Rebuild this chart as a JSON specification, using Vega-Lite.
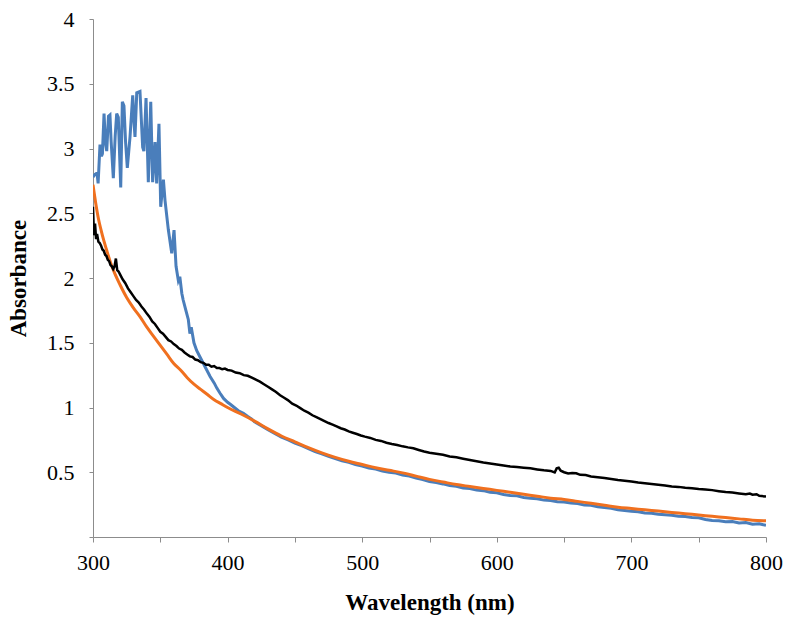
{
  "$schema": "https://vega.github.io/schema/vega-lite/v6.json",
  "width": 673,
  "height": 518,
  "autosize": {"type": "none"},
  "padding": {"left": 93, "top": 19, "right": 34, "bottom": 90},
  "background": "white",
  "config": {
    "view": {"stroke": null},
    "axis": {
      "labelFont": "Liberation Serif",
      "labelFontSize": 22,
      "labelColor": "#000000",
      "titleFont": "Liberation Serif",
      "titleFontSize": 23,
      "titleFontWeight": "bold",
      "titleColor": "#000000",
      "domainColor": "#8c8c8c",
      "tickColor": "#8c8c8c",
      "grid": false
    }
  },
  "datasets": {
    "blue": [
      {"w": 300, "a": 2.78}, {"w": 301.5, "a": 2.8}, {"w": 303, "a": 2.81}, {"w": 303.8, "a": 2.73},
      {"w": 305.2, "a": 3.03}, {"w": 306.3, "a": 2.94}, {"w": 307, "a": 2.96}, {"w": 308.2, "a": 3.27},
      {"w": 309.2, "a": 3.05}, {"w": 310.2, "a": 2.98}, {"w": 311.5, "a": 3.25}, {"w": 312.6, "a": 3.26},
      {"w": 313.5, "a": 3.05}, {"w": 315.1, "a": 2.77}, {"w": 316.5, "a": 3.1}, {"w": 317.6, "a": 3.27},
      {"w": 318.8, "a": 3.24}, {"w": 320.6, "a": 2.7}, {"w": 321.8, "a": 3.36}, {"w": 323, "a": 3.33},
      {"w": 324.2, "a": 3.05}, {"w": 325.5, "a": 2.85}, {"w": 327.5, "a": 3.09}, {"w": 329.5, "a": 3.41},
      {"w": 330.5, "a": 3.2}, {"w": 331.2, "a": 3.09}, {"w": 332.5, "a": 3.43}, {"w": 334.9, "a": 3.44},
      {"w": 336.9, "a": 3.01}, {"w": 337.8, "a": 2.98}, {"w": 339.4, "a": 3.39}, {"w": 341.1, "a": 2.74},
      {"w": 342.9, "a": 3.36}, {"w": 344.3, "a": 2.74}, {"w": 346.1, "a": 3.05}, {"w": 347.3, "a": 2.73},
      {"w": 349, "a": 3.19}, {"w": 350.3, "a": 2.55}, {"w": 352.3, "a": 2.76}, {"w": 353.5, "a": 2.6},
      {"w": 356, "a": 2.37}, {"w": 358.5, "a": 2.19}, {"w": 360.2, "a": 2.37}, {"w": 361.7, "a": 2.09},
      {"w": 363.4, "a": 1.98}, {"w": 364.5, "a": 2.01}, {"w": 366, "a": 1.88}, {"w": 367, "a": 1.83},
      {"w": 369, "a": 1.75}, {"w": 370.8, "a": 1.68}, {"w": 372, "a": 1.57}, {"w": 373, "a": 1.62},
      {"w": 375, "a": 1.5}, {"w": 377, "a": 1.44}, {"w": 379.5, "a": 1.39}, {"w": 382, "a": 1.34},
      {"w": 384.5, "a": 1.29}, {"w": 387, "a": 1.24}, {"w": 390, "a": 1.19}, {"w": 392, "a": 1.15},
      {"w": 394.4, "a": 1.11}, {"w": 397, "a": 1.07}, {"w": 400, "a": 1.04}, {"w": 402, "a": 1.025},
      {"w": 405, "a": 1.0}, {"w": 408, "a": 0.975}, {"w": 411.7, "a": 0.955}, {"w": 415, "a": 0.93},
      {"w": 418, "a": 0.91}, {"w": 420, "a": 0.89}, {"w": 425, "a": 0.86}, {"w": 430, "a": 0.828},
      {"w": 435, "a": 0.8}, {"w": 440, "a": 0.772}, {"w": 445, "a": 0.75}, {"w": 450, "a": 0.725},
      {"w": 455, "a": 0.705}, {"w": 460, "a": 0.683}, {"w": 465, "a": 0.66}, {"w": 470, "a": 0.642},
      {"w": 475, "a": 0.622}, {"w": 480, "a": 0.605}, {"w": 485, "a": 0.588}, {"w": 490, "a": 0.576},
      {"w": 495, "a": 0.56}, {"w": 500, "a": 0.548}, {"w": 505, "a": 0.532}, {"w": 510, "a": 0.524},
      {"w": 515, "a": 0.51}, {"w": 520, "a": 0.5}, {"w": 525, "a": 0.494}, {"w": 530, "a": 0.478},
      {"w": 535, "a": 0.47}, {"w": 540, "a": 0.455}, {"w": 545, "a": 0.444}, {"w": 550, "a": 0.428},
      {"w": 555, "a": 0.42}, {"w": 560, "a": 0.41}, {"w": 565, "a": 0.398}, {"w": 570, "a": 0.392},
      {"w": 575, "a": 0.378}, {"w": 580, "a": 0.374}, {"w": 585, "a": 0.362}, {"w": 590, "a": 0.358},
      {"w": 595, "a": 0.345}, {"w": 600, "a": 0.342}, {"w": 605, "a": 0.328}, {"w": 610, "a": 0.32},
      {"w": 615, "a": 0.318}, {"w": 620, "a": 0.305}, {"w": 625, "a": 0.3}, {"w": 630, "a": 0.296},
      {"w": 635, "a": 0.285}, {"w": 640, "a": 0.282}, {"w": 645, "a": 0.272}, {"w": 650, "a": 0.27},
      {"w": 655, "a": 0.262}, {"w": 660, "a": 0.258}, {"w": 665, "a": 0.248}, {"w": 670, "a": 0.245},
      {"w": 675, "a": 0.234}, {"w": 680, "a": 0.228}, {"w": 685, "a": 0.222}, {"w": 690, "a": 0.21},
      {"w": 695, "a": 0.205}, {"w": 700, "a": 0.198}, {"w": 705, "a": 0.195}, {"w": 710, "a": 0.186},
      {"w": 715, "a": 0.184}, {"w": 720, "a": 0.175}, {"w": 725, "a": 0.172}, {"w": 730, "a": 0.168},
      {"w": 735, "a": 0.16}, {"w": 740, "a": 0.158}, {"w": 745, "a": 0.15}, {"w": 750, "a": 0.148},
      {"w": 755, "a": 0.135}, {"w": 760, "a": 0.128}, {"w": 765, "a": 0.125}, {"w": 770, "a": 0.118},
      {"w": 775, "a": 0.12}, {"w": 780, "a": 0.108}, {"w": 785, "a": 0.112}, {"w": 790, "a": 0.098},
      {"w": 795, "a": 0.102}, {"w": 800, "a": 0.09}
    ],
    "orange": [
      {"w": 300, "a": 2.72}, {"w": 302, "a": 2.58}, {"w": 304, "a": 2.46}, {"w": 306, "a": 2.37},
      {"w": 308, "a": 2.29}, {"w": 310, "a": 2.22}, {"w": 313, "a": 2.12}, {"w": 316, "a": 2.04},
      {"w": 320, "a": 1.95}, {"w": 325, "a": 1.85}, {"w": 330, "a": 1.77}, {"w": 335, "a": 1.7},
      {"w": 340, "a": 1.62}, {"w": 345, "a": 1.55}, {"w": 350, "a": 1.48}, {"w": 355, "a": 1.41},
      {"w": 360, "a": 1.34}, {"w": 365, "a": 1.29}, {"w": 370, "a": 1.23}, {"w": 375, "a": 1.18},
      {"w": 380, "a": 1.14}, {"w": 385, "a": 1.1}, {"w": 390, "a": 1.06}, {"w": 395, "a": 1.03},
      {"w": 400, "a": 1.0}, {"w": 410, "a": 0.95}, {"w": 420, "a": 0.895}, {"w": 430, "a": 0.835},
      {"w": 440, "a": 0.78}, {"w": 450, "a": 0.735}, {"w": 460, "a": 0.69}, {"w": 470, "a": 0.65},
      {"w": 480, "a": 0.615}, {"w": 490, "a": 0.585}, {"w": 500, "a": 0.56}, {"w": 510, "a": 0.535},
      {"w": 520, "a": 0.515}, {"w": 530, "a": 0.495}, {"w": 540, "a": 0.47}, {"w": 550, "a": 0.445},
      {"w": 560, "a": 0.425}, {"w": 570, "a": 0.405}, {"w": 580, "a": 0.39}, {"w": 590, "a": 0.375},
      {"w": 600, "a": 0.36}, {"w": 610, "a": 0.345}, {"w": 620, "a": 0.33}, {"w": 630, "a": 0.315},
      {"w": 640, "a": 0.3}, {"w": 650, "a": 0.29}, {"w": 660, "a": 0.275}, {"w": 670, "a": 0.26},
      {"w": 680, "a": 0.245}, {"w": 690, "a": 0.23}, {"w": 700, "a": 0.22}, {"w": 710, "a": 0.21},
      {"w": 720, "a": 0.2}, {"w": 730, "a": 0.19}, {"w": 740, "a": 0.18}, {"w": 750, "a": 0.17},
      {"w": 760, "a": 0.16}, {"w": 770, "a": 0.15}, {"w": 780, "a": 0.14}, {"w": 790, "a": 0.13},
      {"w": 800, "a": 0.125}
    ],
    "black": [
      {"w": 300, "a": 2.55}, {"w": 300.7, "a": 2.33}, {"w": 301.5, "a": 2.42}, {"w": 302.3, "a": 2.3},
      {"w": 303, "a": 2.34}, {"w": 304, "a": 2.28}, {"w": 305, "a": 2.27}, {"w": 306, "a": 2.25},
      {"w": 307, "a": 2.22}, {"w": 308, "a": 2.21}, {"w": 309, "a": 2.18}, {"w": 310, "a": 2.17},
      {"w": 311, "a": 2.14}, {"w": 312, "a": 2.13}, {"w": 313, "a": 2.1}, {"w": 314, "a": 2.09},
      {"w": 315, "a": 2.07}, {"w": 316, "a": 2.09}, {"w": 317, "a": 2.15}, {"w": 318, "a": 2.06},
      {"w": 319, "a": 2.05}, {"w": 320, "a": 2.03}, {"w": 322, "a": 1.99}, {"w": 324, "a": 1.96},
      {"w": 326, "a": 1.92}, {"w": 328, "a": 1.89}, {"w": 330, "a": 1.86}, {"w": 332, "a": 1.83},
      {"w": 334, "a": 1.81}, {"w": 336, "a": 1.78}, {"w": 338, "a": 1.755}, {"w": 340, "a": 1.725},
      {"w": 342, "a": 1.7}, {"w": 344, "a": 1.665}, {"w": 346, "a": 1.645}, {"w": 348, "a": 1.615},
      {"w": 350, "a": 1.585}, {"w": 352, "a": 1.57}, {"w": 354, "a": 1.545}, {"w": 356, "a": 1.52},
      {"w": 358, "a": 1.51}, {"w": 360, "a": 1.49}, {"w": 362, "a": 1.475}, {"w": 364, "a": 1.455},
      {"w": 366, "a": 1.445}, {"w": 368, "a": 1.425}, {"w": 370, "a": 1.41}, {"w": 372, "a": 1.395},
      {"w": 374, "a": 1.39}, {"w": 376, "a": 1.37}, {"w": 378, "a": 1.365}, {"w": 380, "a": 1.35},
      {"w": 382, "a": 1.345}, {"w": 384, "a": 1.33}, {"w": 386, "a": 1.33}, {"w": 388, "a": 1.315},
      {"w": 390, "a": 1.32}, {"w": 392, "a": 1.305}, {"w": 394, "a": 1.305}, {"w": 396, "a": 1.295},
      {"w": 398, "a": 1.3}, {"w": 400, "a": 1.29}, {"w": 403, "a": 1.285}, {"w": 406, "a": 1.27},
      {"w": 409, "a": 1.265}, {"w": 412, "a": 1.25}, {"w": 415, "a": 1.245}, {"w": 418, "a": 1.23},
      {"w": 421, "a": 1.215}, {"w": 424, "a": 1.2}, {"w": 427, "a": 1.18}, {"w": 430, "a": 1.16},
      {"w": 433, "a": 1.14}, {"w": 436, "a": 1.12}, {"w": 439, "a": 1.095}, {"w": 442, "a": 1.075},
      {"w": 445, "a": 1.055}, {"w": 448, "a": 1.03}, {"w": 451, "a": 1.015}, {"w": 454, "a": 0.995},
      {"w": 457, "a": 0.975}, {"w": 460, "a": 0.96}, {"w": 463, "a": 0.94}, {"w": 466, "a": 0.925},
      {"w": 469, "a": 0.91}, {"w": 472, "a": 0.895}, {"w": 475, "a": 0.88}, {"w": 478, "a": 0.868},
      {"w": 481, "a": 0.855}, {"w": 484, "a": 0.84}, {"w": 487, "a": 0.83}, {"w": 490, "a": 0.815},
      {"w": 493, "a": 0.805}, {"w": 496, "a": 0.795}, {"w": 499, "a": 0.784}, {"w": 502, "a": 0.775},
      {"w": 506, "a": 0.765}, {"w": 510, "a": 0.75}, {"w": 514, "a": 0.742}, {"w": 518, "a": 0.728},
      {"w": 522, "a": 0.718}, {"w": 526, "a": 0.71}, {"w": 530, "a": 0.7}, {"w": 534, "a": 0.692},
      {"w": 538, "a": 0.685}, {"w": 542, "a": 0.672}, {"w": 546, "a": 0.66}, {"w": 550, "a": 0.65},
      {"w": 555, "a": 0.643}, {"w": 560, "a": 0.635}, {"w": 565, "a": 0.622}, {"w": 570, "a": 0.615},
      {"w": 575, "a": 0.605}, {"w": 580, "a": 0.595}, {"w": 585, "a": 0.585}, {"w": 590, "a": 0.575},
      {"w": 595, "a": 0.567}, {"w": 600, "a": 0.56}, {"w": 605, "a": 0.552}, {"w": 610, "a": 0.545},
      {"w": 615, "a": 0.54}, {"w": 620, "a": 0.535}, {"w": 625, "a": 0.53}, {"w": 630, "a": 0.522},
      {"w": 635, "a": 0.515}, {"w": 640, "a": 0.51}, {"w": 643, "a": 0.498}, {"w": 644.5, "a": 0.53},
      {"w": 646, "a": 0.535}, {"w": 647.5, "a": 0.512}, {"w": 650, "a": 0.5}, {"w": 653, "a": 0.49},
      {"w": 656, "a": 0.495}, {"w": 659, "a": 0.492}, {"w": 662, "a": 0.48}, {"w": 666, "a": 0.478},
      {"w": 670, "a": 0.468}, {"w": 675, "a": 0.462}, {"w": 680, "a": 0.455}, {"w": 685, "a": 0.448},
      {"w": 690, "a": 0.44}, {"w": 695, "a": 0.435}, {"w": 700, "a": 0.428}, {"w": 705, "a": 0.42},
      {"w": 710, "a": 0.415}, {"w": 715, "a": 0.41}, {"w": 720, "a": 0.404}, {"w": 725, "a": 0.398},
      {"w": 730, "a": 0.39}, {"w": 735, "a": 0.387}, {"w": 740, "a": 0.38}, {"w": 745, "a": 0.377},
      {"w": 750, "a": 0.37}, {"w": 755, "a": 0.366}, {"w": 760, "a": 0.362}, {"w": 765, "a": 0.354},
      {"w": 770, "a": 0.347}, {"w": 775, "a": 0.343}, {"w": 780, "a": 0.336}, {"w": 785, "a": 0.33},
      {"w": 788, "a": 0.336}, {"w": 790, "a": 0.327}, {"w": 793, "a": 0.33}, {"w": 795, "a": 0.318},
      {"w": 800, "a": 0.312}
    ]
  },
  "encoding": {
    "x": {
      "field": "w",
      "type": "quantitative",
      "scale": {"domain": [300, 800], "nice": false, "zero": false},
      "axis": {
        "title": "Wavelength (nm)",
        "values": [300, 350, 400, 450, 500, 550, 600, 650, 700, 750, 800],
        "labelExpr": "datum.value % 100 === 0 ? datum.label : ''",
        "format": "d",
        "tickSize": 5,
        "labelPadding": 10,
        "titlePadding": 18,
        "labelFlush": false,
        "labelOverlap": false
      }
    },
    "y": {
      "field": "a",
      "type": "quantitative",
      "scale": {"domain": [0, 4], "nice": false},
      "axis": {
        "title": "Absorbance",
        "values": [0, 0.5, 1, 1.5, 2, 2.5, 3, 3.5, 4],
        "format": "~g",
        "labelExpr": "datum.value === 0 ? '' : datum.label",
        "tickSize": 4,
        "labelPadding": 15,
        "titlePadding": 16,
        "labelFlush": false,
        "labelOverlap": false
      }
    }
  },
  "layer": [
    {"data": {"name": "blue"}, "mark": {"type": "line", "stroke": "#4A7EBB", "strokeWidth": 3, "clip": true}},
    {"data": {"name": "orange"}, "mark": {"type": "line", "stroke": "#F0701F", "strokeWidth": 3, "clip": true, "interpolate": "monotone"}},
    {"data": {"name": "black"}, "mark": {"type": "line", "stroke": "#000000", "strokeWidth": 2.5, "clip": true}}
  ]
}
